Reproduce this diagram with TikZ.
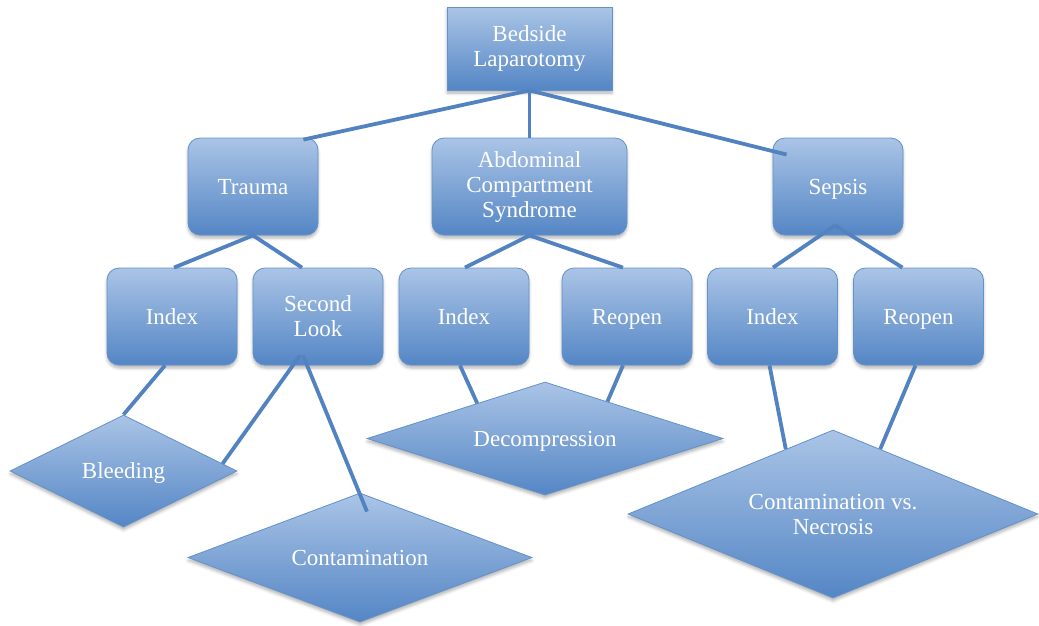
\documentclass[tikz,border=0pt]{standalone}
\usepackage{fontspec}
\setmainfont{Liberation Serif}
\usetikzlibrary{shapes.geometric,calc,shadows.blur}
\definecolor{boxtop}{RGB}{170,196,230}
\definecolor{boxbot}{RGB}{84,134,197}
\definecolor{boxedge}{RGB}{98,145,204}
\definecolor{linkc}{RGB}{82,131,192}
\begin{document}
\begin{tikzpicture}[x=1pt,y=-1pt,
  boxlook/.style={top color=boxtop,bottom color=boxbot,draw=boxedge,line width=0.8pt,
    text=white,font=\fontsize{23}{25}\selectfont,align=center,inner sep=0pt,
    blur shadow={shadow xshift=0pt,shadow yshift=-3pt,shadow opacity=30,shadow blur radius=3pt}},
  oneline/.style={text height=16.5pt,text depth=1.5pt},
  sqbox/.style={boxlook,rectangle},
  rbox/.style={boxlook,rectangle,rounded corners=12pt,minimum width=130pt,minimum height=97pt},
  dmd/.style={boxlook,diamond,aspect=2.5},
  link/.style={draw=linkc,line width=3.8pt}]
\useasboundingbox (0,0) rectangle (1039,625);

% level 0
\node[sqbox,minimum width=165pt,minimum height=83pt] (top) at (529.5,48.5) {Bedside\\Laparotomy};
% level 1
\node[rbox,oneline] (trauma) at (253,186.5) {Trauma};
\node[rbox,minimum width=195pt] (acs) at (529.5,186.5) {Abdominal\\Compartment\\Syndrome};
\node[rbox,oneline] (sepsis) at (838,186.5) {Sepsis};
% level 2
\node[rbox,oneline] (index1) at (172,316.5) {Index};
\node[rbox] (second) at (318,316.5) {Second\\Look};
\node[rbox,oneline] (index2) at (464,316.5) {Index};
\node[rbox,oneline] (reopen1) at (627,316.5) {Reopen};
\node[rbox,oneline] (index3) at (772.5,316.5) {Index};
\node[rbox,oneline] (reopen2) at (918.5,316.5) {Reopen};
% level 3
\node[dmd,oneline,minimum width=227pt,minimum height=112pt] (bleeding) at (123.5,471) {Bleeding};
\node[dmd,oneline,minimum width=344pt,minimum height=129pt] (contam) at (360,557.5) {Contamination};
\node[dmd,oneline,minimum width=356pt,minimum height=113pt] (decomp) at (545,438.5) {Decompression};
\node[dmd,minimum width=410pt,minimum height=168pt] (necro) at (833,514) {Contamination vs.\\Necrosis};

% connectors
\draw[link] (top.south) -- ($(trauma.north east)+(-15,2)$);
\draw[link] (top.south) -- (acs.north);
\draw[link] (top.south) -- ($(sepsis.north west)+(14,17)$);

\draw[link] (trauma.south) -- ($(index1.north)+(2,0)$);
\draw[link] (trauma.south) -- ($(second.north)+(-16,0)$);
\draw[link] (acs.south) -- ($(index2.north)+(1,0)$);
\draw[link] (acs.south) -- ($(reopen1.north)+(-4,0)$);
\draw[link] ($(sepsis.south)+(-3,-10)$) -- ($(index3.north)+(0.5,0)$);
\draw[link] ($(sepsis.south)+(-3,-10)$) -- ($(reopen2.north)+(-16,0)$);

\draw[link] ($(index1.south)+(-7,0)$) -- (bleeding.north);
\draw[link] ($(second.south)+(-18,-10)$) -- ($(bleeding.north)!0.87!(bleeding.east)$);
\draw[link] ($(second.south)+(-15,-10)$) -- ($(contam.north)+(7,19)$);
\draw[link] ($(index2.south)+(-4,0)$) -- ($(decomp.west)!0.62!(decomp.north)$);
\draw[link] ($(reopen1.south)+(-4,0)$) -- ($(decomp.north)!0.35!(decomp.east)$);
\draw[link] ($(index3.south)+(-3,0)$) -- ($(necro.west)!0.77!(necro.north)$);
\draw[link] ($(reopen2.south)+(-3,0)$) -- ($(necro.north)!0.23!(necro.east)$);
\end{tikzpicture}
\end{document}
